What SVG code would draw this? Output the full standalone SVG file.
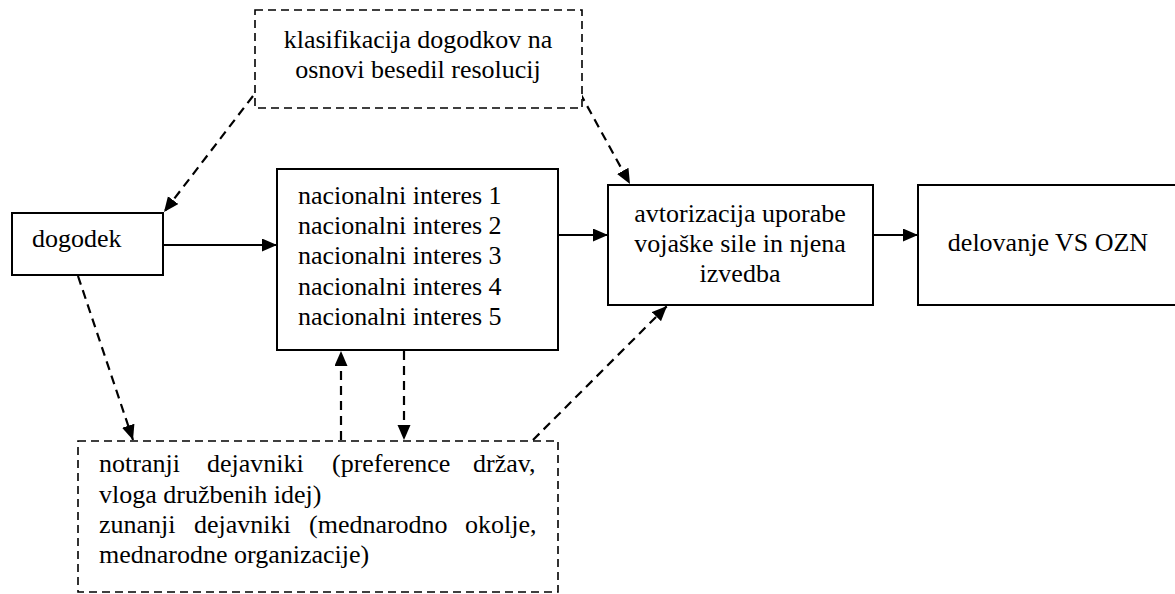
<svg xmlns="http://www.w3.org/2000/svg" width="1175" height="594" viewBox="0 0 1175 594">
<style>
.box{fill:#fff;stroke:#000;stroke-width:2}
.dbox{fill:#fff;stroke:#000;stroke-width:1.6;stroke-dasharray:8 5}
.solid{stroke:#000;stroke-width:2.2;fill:none}
.dash{stroke:#000;stroke-width:2.2;fill:none;stroke-dasharray:9 6}
.mid{text-anchor:middle}
</style>
<defs>
<marker id="ah" markerUnits="userSpaceOnUse" markerWidth="16" markerHeight="14" refX="15" refY="6.5" orient="auto">
<path d="M0,0 L15,6.5 L0,13 z" fill="#000"/>
</marker>
</defs>
<rect width="1175" height="594" fill="#fff"/>
<g id="connectors">
<line class="solid" x1="163" y1="245" x2="277" y2="245" marker-end="url(#ah)"/>
<line class="solid" x1="558" y1="235" x2="608" y2="235" marker-end="url(#ah)"/>
<line class="solid" x1="873" y1="235" x2="918" y2="235" marker-end="url(#ah)"/>
<line class="dash" x1="253" y1="96" x2="164" y2="212" marker-end="url(#ah)"/>
<line class="dash" x1="580" y1="93" x2="630" y2="184" marker-end="url(#ah)"/>
<line class="dash" x1="78" y1="276" x2="133" y2="440" marker-end="url(#ah)"/>
<line class="dash" x1="341" y1="440" x2="341" y2="351" marker-end="url(#ah)"/>
<line class="dash" x1="404" y1="351" x2="404" y2="440" marker-end="url(#ah)"/>
<line class="dash" x1="533" y1="440" x2="667" y2="306" marker-end="url(#ah)"/>
</g>
<g font-family="Liberation Serif, Times New Roman, serif" font-size="26" fill="#000">
<g id="klasifikacija">
<rect class="dbox" x="255" y="10" width="327" height="98"/>
<text class="mid" x="418" y="48">klasifikacija dogodkov na</text>
<text class="mid" x="418" y="78">osnovi besedil resolucij</text>
</g>
<g id="dogodek">
<rect class="box" x="12" y="213" width="151" height="62"/>
<text x="32" y="247">dogodek</text>
</g>
<g id="nacionalni">
<rect class="box" x="277" y="169" width="281" height="181"/>
<text x="298" y="204">nacionalni interes 1</text>
<text x="298" y="234">nacionalni interes 2</text>
<text x="298" y="264">nacionalni interes 3</text>
<text x="298" y="295">nacionalni interes 4</text>
<text x="298" y="325">nacionalni interes 5</text>
</g>
<g id="avtorizacija">
<rect class="box" x="608" y="185" width="265" height="120"/>
<text class="mid" x="740" y="222">avtorizacija uporabe</text>
<text class="mid" x="740" y="252">vojaške sile in njena</text>
<text class="mid" x="740" y="282">izvedba</text>
</g>
<g id="delovanje">
<rect class="box" x="918" y="185" width="262" height="120"/>
<text class="mid" x="1048" y="251">delovanje VS OZN</text>
</g>
<g id="dejavniki">
<rect class="dbox" x="78" y="441" width="480" height="151"/>
<text y="472"><tspan x="99">notranji</tspan><tspan x="207">dejavniki</tspan><tspan x="332">(preference</tspan><tspan x="473">držav,</tspan></text>
<text x="99" y="503">vloga družbenih idej)</text>
<text y="533"><tspan x="99">zunanji</tspan><tspan x="194">dejavniki</tspan><tspan x="309">(mednarodno</tspan><tspan x="465">okolje,</tspan></text>
<text x="99" y="563">mednarodne organizacije)</text>
</g>
</g>
</svg>
